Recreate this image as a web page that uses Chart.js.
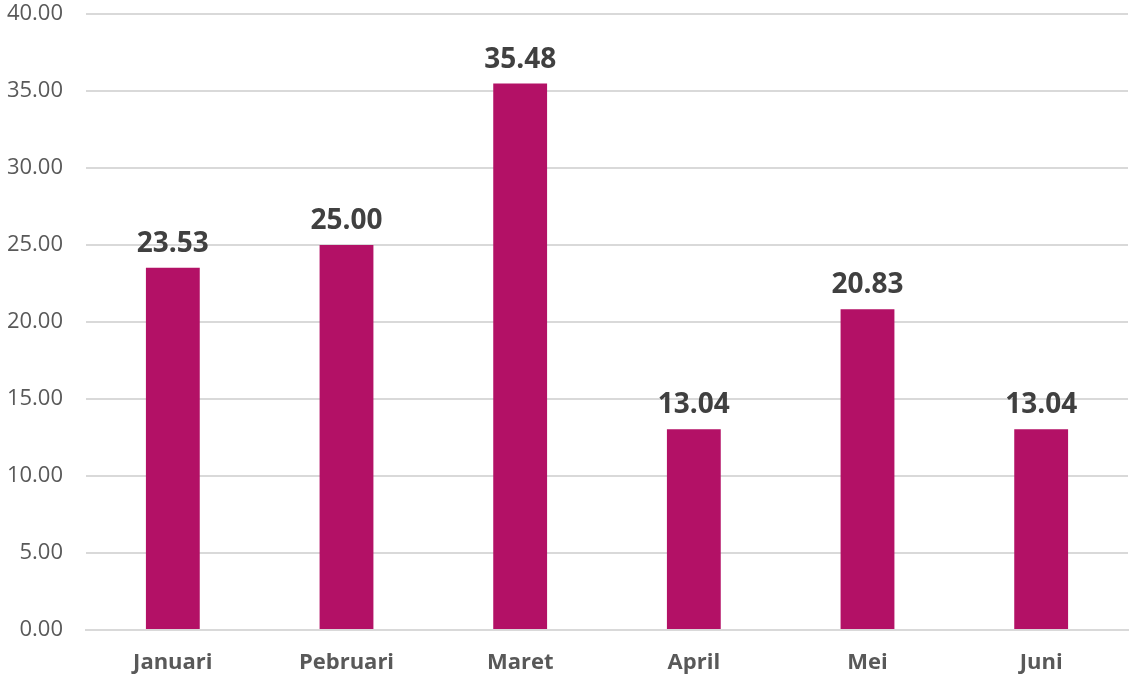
<!DOCTYPE html>
<html><head><meta charset="utf-8">
<script src="https://cdn.jsdelivr.net/npm/chart.js@4/dist/chart.umd.min.js"></script>
<style>html,body{margin:0;padding:0;background:#fff;}#wrap{width:1131px;height:675px;position:relative;}</style>
</head><body><div id="wrap"><canvas id="c" width="1131" height="675"></canvas></div>
<script>
const categories = ["Januari","Pebruari","Maret","April","Mei","Juni"];
const values = [23.53, 25.00, 35.48, 13.04, 20.83, 13.04];
const yTicks = [0,5,10,15,20,25,30,35,40];

const valueLabels = {
  id:'valueLabels',
  afterDatasetsDraw(chart){
    const ctx = chart.ctx;
    const meta = chart.getDatasetMeta(0);
    ctx.save();
    ctx.font = 'bold 28px "Open Sans"';
    ctx.fillStyle = '#404040';
    ctx.textAlign = 'center';
    ctx.textBaseline = 'alphabetic';
    meta.data.forEach((bar,i)=>{
      ctx.fillText(values[i].toFixed(2), bar.x, bar.y - 16);
    });
    ctx.restore();
  }
};

new Chart(document.getElementById('c'), {
  type:'bar',
  data:{labels:categories, datasets:[{data:values, backgroundColor:'#B31166', borderWidth:0, barPercentage:0.62, categoryPercentage:0.5}]},
  options:{
    responsive:false, animation:false,
    layout:{padding:{top:14,right:3,left:0,bottom:0}},
    plugins:{legend:{display:false},tooltip:{enabled:false}},
    scales:{
      x:{
        grid:{display:false, drawTicks:false},
        border:{display:true,color:'#d9d9d9',width:2},
        ticks:{color:'#595959',font:{family:'"Open Sans"',size:22,weight:'bold'},padding:20},
        afterFit(s){s.height=45;s.paddingLeft=0;s.paddingRight=0;}
      },
      y:{
        min:0,max:40,
        afterBuildTicks(s){s.ticks=yTicks.map(v=>({value:v}));},
        grid:{color:'#d9d9d9',lineWidth:2,drawTicks:false},
        border:{display:false},
        ticks:{color:'#595959',font:{family:'"Open Sans"',size:22},padding:23,callback:v=>Number(v).toFixed(2)},
        afterFit(s){s.width=86;s.paddingTop=0;s.paddingBottom=0;}
      }
    }
  },
  plugins:[valueLabels]
});
</script></body></html>
